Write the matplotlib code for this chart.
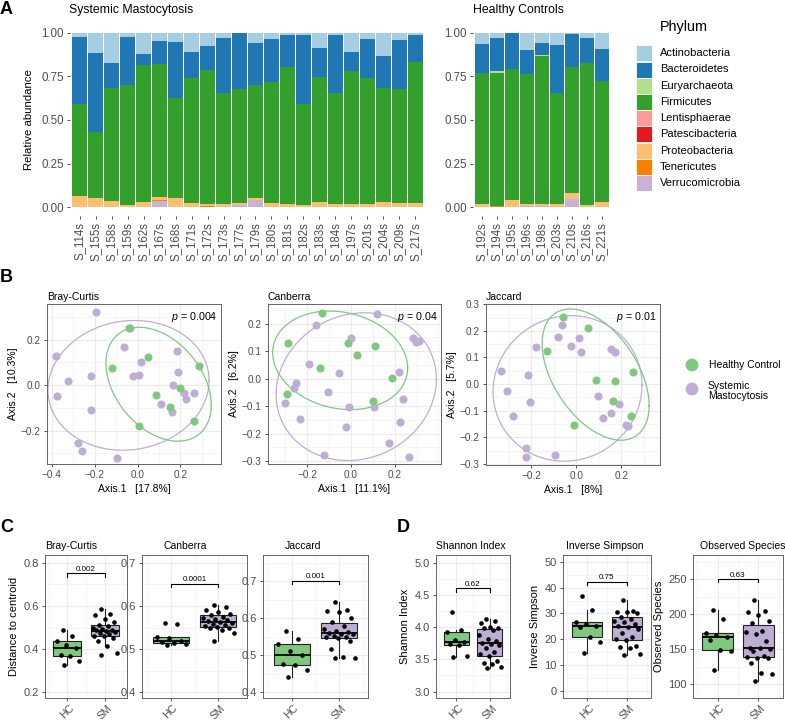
import numpy as np
import matplotlib
matplotlib.use("Agg")
import matplotlib.pyplot as plt
from matplotlib.patches import Rectangle
from matplotlib.ticker import AutoMinorLocator

plt.rcParams['font.family'] = ['Liberation Sans', 'DejaVu Sans']
plt.rcParams['mathtext.fontset'] = 'custom'
plt.rcParams['mathtext.it'] = 'Liberation Sans:italic'
plt.rcParams['mathtext.rm'] = 'Liberation Sans'

# ---------------- A: phylum composition ----------------
phyla = ["Actinobacteria", "Bacteroidetes", "Euryarchaeota", "Firmicutes",
         "Lentisphaerae", "Patescibacteria", "Proteobacteria", "Tenericutes",
         "Verrucomicrobia"]
phylum_colors = ["#A6CEE3", "#1F78B4", "#B2DF8A", "#33A02C", "#FB9A99",
                 "#E31A1C", "#FDBF6F", "#FF7F00", "#CAB2D6"]

sm_samples = ["S_114s", "S_155s", "S_158s", "S_159s", "S_162s", "S_167s", "S_168s",
              "S_171s", "S_172s", "S_173s", "S_177s", "S_179s", "S_180s", "S_181s",
              "S_182s", "S_183s", "S_184s", "S_197s", "S_201s", "S_204s", "S_209s",
              "S_217s"]
hc_samples = ["S_192s", "S_194s", "S_195s", "S_196s", "S_198s", "S_203s", "S_210s",
              "S_216s", "S_221s"]

sm_actino = [0.025, 0.115, 0.171, 0.025, 0.121, 0.048, 0.052, 0.108, 0.075, 0.031, 0.004,
             0.058, 0.035, 0.015, 0.015, 0.087, 0.013, 0.112, 0.038, 0.135, 0.042, 0.015]
sm_bacter = [0.383, 0.452, 0.144, 0.273, 0.062, 0.129, 0.323, 0.154, 0.138, 0.317, 0.317,
             0.242, 0.246, 0.183, 0.393, 0.167, 0.335, 0.105, 0.220, 0.180, 0.281, 0.150]
sm_eury = [0, 0, 0, 0, 0, 0.004, 0, 0, 0, 0, 0, 0, 0, 0, 0, 0, 0, 0, 0, 0, 0, 0]
sm_firm = [0.529, 0.381, 0.648, 0.687, 0.788, 0.761, 0.571, 0.715, 0.770, 0.635, 0.652,
           0.648, 0.692, 0.781, 0.577, 0.715, 0.631, 0.766, 0.725, 0.654, 0.652, 0.812]
sm_lentis = [0.0] * 22
sm_pates = [0.0] * 22
sm_proteo = [0.060, 0.052, 0.037, 0.015, 0.029, 0.017, 0.054, 0.023, 0.009, 0.017, 0.015,
             0.012, 0.027, 0.021, 0.015, 0.031, 0.021, 0.017, 0.017, 0.031, 0.025, 0.023]
sm_teneric = [0, 0, 0, 0, 0, 0.006, 0, 0, 0.008, 0, 0, 0, 0, 0, 0, 0, 0, 0, 0, 0, 0, 0]
sm_verruco = [0.003, 0, 0, 0, 0, 0.035, 0, 0, 0, 0, 0.012, 0.040, 0, 0, 0, 0, 0, 0, 0, 0, 0, 0]

hc_actino = [0.066, 0.029, 0.0, 0.101, 0.056, 0.070, 0.008, 0.031, 0.091]
hc_bacter = [0.162, 0.191, 0.207, 0.133, 0.072, 0.274, 0.189, 0.141, 0.188]
hc_eury = [0, 0.008, 0, 0, 0.007, 0, 0, 0, 0]
hc_firm = [0.755, 0.762, 0.750, 0.747, 0.844, 0.635, 0.724, 0.813, 0.688]
hc_lentis = [0.0] * 9
hc_pates = [0.0] * 9
hc_proteo = [0.017, 0.002, 0.043, 0.011, 0.016, 0.021, 0.031, 0.015, 0.033]
hc_teneric = [0, 0.008, 0, 0, 0, 0, 0, 0, 0]
hc_verruco = [0, 0, 0, 0.008, 0.005, 0, 0.048, 0, 0]

# ---------------- B: PCoA coordinates ----------------
bc_hc_x = [-0.042, -0.120, 0.050, 0.288, 0.198, 0.088, 0.150, 0.008, 0.266]
bc_hc_y = [0.251, 0.073, 0.122, 0.082, -0.015, -0.045, -0.095, -0.182, -0.160]
bc_sm_x = [-0.195, -0.383, -0.375, -0.327, -0.217, -0.217, -0.277, -0.258, -0.098, -0.034, -0.064,
           0.014, -0.020, 0.009, 0.184, 0.188, 0.166, 0.216, 0.228, 0.266, 0.108, 0.161]
bc_sm_y = [0.323, 0.127, -0.047, 0.018, 0.038, -0.108, -0.255, -0.289, -0.321, 0.251, 0.166,
           0.100, 0.040, 0.044, 0.151, 0.059, 0.001, -0.034, -0.063, -0.035, -0.082, -0.117]

cb_hc_x = [-0.131, -0.290, -0.014, 0.108, 0.027, -0.140, 0.189, -0.295, 0.099]
cb_hc_y = [0.237, 0.128, 0.128, 0.117, 0.085, 0.040, 0.002, -0.057, -0.082]
cb_sm_x = [0.118, -0.160, 0.002, 0.285, 0.296, 0.311, -0.191, -0.056, 0.220, -0.252, -0.260,
           -0.105, -0.304, 0.238, -0.009, 0.105, -0.232, 0.224, -0.021, 0.174, -0.122, 0.264]
cb_sm_y = [0.235, 0.195, 0.146, 0.148, 0.134, 0.137, 0.052, 0.021, 0.023, -0.017, -0.034,
           -0.047, -0.087, -0.075, -0.102, -0.102, -0.145, -0.156, -0.176, -0.232, -0.277, -0.283]

jc_hc_x = [-0.058, 0.052, -0.128, 0.254, 0.086, 0.174, 0.162, 0.245, -0.009]
jc_hc_y = [0.253, 0.210, 0.123, 0.045, 0.015, 0.010, -0.064, -0.118, -0.152]
jc_sm_x = [-0.061, -0.081, 0.013, -0.024, 0.021, -0.177, 0.156, 0.174, -0.332, -0.213, -0.307,
           -0.205, -0.282, 0.099, 0.190, 0.156, 0.117, 0.223, 0.232, -0.221, -0.223, -0.096]
jc_sm_y = [0.223, 0.176, 0.173, 0.143, 0.119, 0.139, 0.132, 0.119, 0.048, 0.034, -0.026,
           -0.069, -0.120, -0.044, -0.075, -0.110, -0.128, -0.153, -0.158, -0.241, -0.274, -0.265]

# ---------------- C: distance to centroid ----------------
dist_bc_hc = [0.325, 0.345, 0.37, 0.372, 0.406, 0.42, 0.44, 0.46, 0.487]
dist_bc_sm = [0.375, 0.382, 0.413, 0.44, 0.452, 0.46, 0.462, 0.468, 0.473, 0.478, 0.483,
              0.487, 0.49, 0.495, 0.50, 0.508, 0.512, 0.525, 0.54, 0.56, 0.565, 0.585]
dist_cb_hc = [0.51, 0.512, 0.514, 0.516, 0.518, 0.525, 0.528, 0.558, 0.56]
dist_cb_sm = [0.52, 0.538, 0.545, 0.548, 0.55, 0.552, 0.553, 0.556, 0.558, 0.56, 0.562,
              0.565, 0.567, 0.57, 0.572, 0.575, 0.58, 0.582, 0.585, 0.59, 0.598, 0.603]
dist_jc_hc = [0.442, 0.46, 0.472, 0.475, 0.50, 0.51, 0.53, 0.544, 0.566]
dist_jc_sm = [0.491, 0.493, 0.495, 0.516, 0.537, 0.547, 0.548, 0.55, 0.553, 0.556, 0.558,
              0.56, 0.562, 0.565, 0.572, 0.578, 0.59, 0.6, 0.618, 0.62, 0.623, 0.645]

# ---------------- D: alpha diversity ----------------
shannon_hc = [3.54, 3.55, 3.72, 3.74, 3.77, 3.80, 3.92, 3.96, 4.24]
shannon_sm = [3.36, 3.38, 3.43, 3.44, 3.47, 3.55, 3.58, 3.62, 3.68, 3.72, 3.74, 3.76, 3.79,
              3.82, 3.88, 3.96, 3.98, 3.99, 4.0, 4.07, 4.09, 4.12]
invsimp_hc = [14.6, 19.0, 20.7, 24.9, 25.2, 26.0, 26.6, 31.4, 36.6]
invsimp_sm = [13.8, 14.2, 16.8, 17.2, 17.6, 19.6, 20.2, 21.0, 22.4, 24.0, 24.6, 25.2, 26.0,
              26.6, 27.2, 28.0, 28.8, 30.0, 30.5, 30.7, 31.0, 35.3]
observed_hc = [120.5, 148, 148.5, 163.3, 167.1, 170.5, 172.9, 192.9, 205.7]
observed_sm = [105, 114, 116, 130, 137, 138, 139, 140, 148, 150, 151, 152, 162, 171, 175,
               176, 187, 190, 199, 203, 204, 221]

green = "#7FC97F"
purple = "#BEAED4"
grey_txt = "#4D4D4D"

W, H = 785, 721
fig = plt.figure(figsize=(W / 100, H / 100), dpi=100)


def add_ax(l, t, r, b):
    # axes placed in pixel coordinates (top-left origin)
    return fig.add_axes([l / W, 1 - b / H, (r - l) / W, (b - t) / H])


# overlay in pixel units for titles / legends / panel letters
over = add_ax(0, 0, W, H)
over.set_xlim(0, W)
over.set_ylim(H, 0)
over.axis("off")


def bw_style(ax, tsize=7.2):
    ax.set_facecolor("white")
    for sp in ax.spines.values():
        sp.set_color("#666666")
        sp.set_linewidth(0.7)
    ax.xaxis.set_minor_locator(AutoMinorLocator(2))
    ax.yaxis.set_minor_locator(AutoMinorLocator(2))
    ax.grid(True, which="major", color="#EBEBEB", linewidth=0.8)
    ax.grid(True, which="minor", color="#F2F2F2", linewidth=0.5)
    ax.set_axisbelow(True)
    ax.tick_params(which="minor", length=0)
    ax.tick_params(which="major", length=2.5, width=0.6, color="#333333",
                   labelsize=tsize, labelcolor=grey_txt, pad=2)


# ---- panel A ----
def stack_bars(ax, samples, comp):
    x = np.arange(len(samples))
    bottom = np.zeros(len(samples))
    for name, col in list(zip(phyla, phylum_colors))[::-1]:
        vals = np.array(comp[name], dtype=float)
        ax.bar(x, vals, bottom=bottom, width=0.9, color=col, linewidth=0)
        bottom += vals
    ax.set_xlim(-0.6, len(samples) - 0.4)
    ax.set_ylim(-0.05, 1.05)
    ax.set_yticks([0, 0.25, 0.5, 0.75, 1.0])
    ax.set_yticklabels(["0.00", "0.25", "0.50", "0.75", "1.00"])
    ax.set_xticks(x)
    ax.set_xticklabels(samples, rotation=90)
    for sp in ax.spines.values():
        sp.set_visible(False)
    ax.tick_params(length=2.5, width=0.6, color="#333333", labelsize=8.3,
                   labelcolor=grey_txt, pad=2)


sm_comp = dict(zip(phyla, [sm_actino, sm_bacter, sm_eury, sm_firm, sm_lentis, sm_pates,
                           sm_proteo, sm_teneric, sm_verruco]))
hc_comp = dict(zip(phyla, [hc_actino, hc_bacter, hc_eury, hc_firm, hc_lentis, hc_pates,
                           hc_proteo, hc_teneric, hc_verruco]))

axA1 = add_ax(70, 24, 425, 216)
stack_bars(axA1, sm_samples, sm_comp)
axA1.set_ylabel("Relative abundance", fontsize=8.2, labelpad=5)
over.text(69, 10, "Systemic Mastocytosis", fontsize=8.8, va="center", ha="left")

axA2 = add_ax(473, 24, 611, 216)
stack_bars(axA2, hc_samples, hc_comp)
over.text(473, 10, "Healthy Controls", fontsize=8.8, va="center", ha="left")

# phylum legend
over.text(660, 27, "Phylum", fontsize=10.4, va="center", ha="left")
for i, (name, col) in enumerate(zip(phyla, phylum_colors)):
    yc = 53.3 + i * 16.2
    over.add_patch(Rectangle((636, yc - 8), 16, 16, facecolor=col, edgecolor="white",
                             linewidth=0.6))
    over.text(660, yc, name, fontsize=8, va="center", ha="left")

# ---- panel B ----
ELLIPSE_R = 1.77


def ellipse_xy(x, y, r=ELLIPSE_R, n=200):
    pts = np.column_stack([x, y])
    mu = pts.mean(axis=0)
    chol = np.linalg.cholesky(np.cov(pts.T))
    t = np.linspace(0, 2 * np.pi, n)
    circ = np.column_stack([np.cos(t), np.sin(t)])
    e = mu + r * circ @ chol.T
    return e[:, 0], e[:, 1]


def fmt(v):
    return f"{v:.1f}".replace("-", "\u2212")


def pcoa(ax, hx, hy, sx, sy, xlim, ylim, xt, yt, title, ptxt, xlab, ylab):
    bw_style(ax)
    ax.scatter(sx, sy, s=34, color=purple, linewidths=0, zorder=3)
    ax.scatter(hx, hy, s=34, color=green, linewidths=0, zorder=3)
    ex, ey = ellipse_xy(sx, sy)
    ax.plot(ex, ey, color=purple, linewidth=0.9, zorder=2)
    ex, ey = ellipse_xy(hx, hy)
    ax.plot(ex, ey, color=green, linewidth=0.9, zorder=2)
    ax.set_xlim(*xlim)
    ax.set_ylim(*ylim)
    ax.set_xticks(xt)
    ax.set_yticks(yt)
    ax.set_xticklabels([fmt(v) for v in xt])
    ax.set_yticklabels([fmt(v) for v in yt])
    ax.set_title(title, loc="left", fontsize=7.5, pad=3)
    ax.text(0.98, 0.965, ptxt, transform=ax.transAxes, ha="right", va="top", fontsize=7.7)
    ax.set_xlabel(xlab, fontsize=7.5, labelpad=3)
    ax.set_ylabel(ylab, fontsize=7.5, labelpad=2)


axB1 = add_ax(47, 304, 221, 464)
pcoa(axB1, bc_hc_x, bc_hc_y, bc_sm_x, bc_sm_y, (-0.423, 0.39), (-0.347, 0.356),
     [-0.4, -0.2, 0.0, 0.2], [-0.2, 0.0, 0.2], "Bray-Curtis", "$p$ = 0.004",
     "Axis.1   [17.8%]", "Axis.2   [10.3%]")
axB2 = add_ax(268, 304, 441, 464)
pcoa(axB2, cb_hc_x, cb_hc_y, cb_sm_x, cb_sm_y, (-0.380, 0.412), (-0.310, 0.271),
     [-0.2, 0.0, 0.2], [-0.3, -0.2, -0.1, 0.0, 0.1, 0.2], "Canberra", "$p$ = 0.04",
     "Axis.1   [11.1%]", "Axis.2   [6.2%]")
axB3 = add_ax(486, 304, 660, 465)
pcoa(axB3, jc_hc_x, jc_hc_y, jc_sm_x, jc_sm_y, (-0.400, 0.372), (-0.304, 0.301),
     [-0.2, 0.0, 0.2], [-0.3, -0.2, -0.1, 0.0, 0.1, 0.2, 0.3], "Jaccard", "$p$ = 0.01",
     "Axis.1   [8%]", "Axis.2   [5.7%]")

# group legend
over.scatter([692, 692], [365, 389], s=85, color=[green, purple], linewidths=0)
over.text(709, 365, "Healthy Control", fontsize=7.5, va="center", ha="left")
over.text(708, 391, "Systemic\nMastocytosis", fontsize=7.5, va="center", ha="left",
          linespacing=1.05)


# ---- panels C and D ----
def jitter(n, width=0.33):
    k = np.arange(n)
    return ((k * 0.6180339887 + 0.37) % 1 - 0.5) * 2 * width


def box_panel(ax, hc, sm, ylim, yt, ylabels, ptxt, ybar, ylab=None):
    bw_style(ax, tsize=8)
    bp = ax.boxplot([hc, sm], positions=[1, 2], widths=0.75, patch_artist=True,
                    showfliers=False, showcaps=False,
                    medianprops=dict(color="black", linewidth=1.3),
                    boxprops=dict(edgecolor="#222222", linewidth=0.8),
                    whiskerprops=dict(color="#222222", linewidth=0.8))
    for patch, col in zip(bp["boxes"], [green, purple]):
        patch.set_facecolor(col)
    for pos, vals in [(1, hc), (2, sm)]:
        ax.scatter(pos + jitter(len(vals)), vals, s=11, color="black", zorder=4,
                   linewidths=0)
    span = ylim[1] - ylim[0]
    d = 0.022 * span
    ax.plot([1, 1, 2, 2], [ybar - d, ybar, ybar, ybar - d], color="black", linewidth=0.8)
    ax.text(1.5, ybar + 0.005 * span, ptxt, ha="center", va="bottom", fontsize=5.8)
    ax.set_xlim(0.4, 2.6)
    ax.set_ylim(*ylim)
    ax.set_yticks(yt)
    ax.set_yticklabels(ylabels)
    ax.set_xticks([1, 2])
    ax.set_xticklabels(["HC", "SM"], rotation=45, ha="center", va="top", fontsize=7.5)
    ax.tick_params(axis="x", pad=1)
    if ylab:
        ax.set_ylabel(ylab, fontsize=8, labelpad=3)


axC1 = add_ax(45, 555, 127, 698)
box_panel(axC1, dist_bc_hc, dist_bc_sm, (0.174, 0.836), [0.2, 0.4, 0.6, 0.8],
          ["0.2", "0.4", "0.6", "0.8"], "0.002", 0.751, "Distance to centroid")
axC2 = add_ax(142, 555, 247, 698)
box_panel(axC2, dist_cb_hc, dist_cb_sm, (0.387, 0.718), [0.4, 0.5, 0.6, 0.7],
          ["0.4", "0.5", "0.6", "0.7"], "0.0001", 0.651)
axC3 = add_ax(263, 555, 368, 698)
box_panel(axC3, dist_jc_hc, dist_jc_sm, (0.384, 0.771), [0.4, 0.5, 0.6, 0.7],
          ["0.4", "0.5", "0.6", "0.7"], "0.001", 0.701)

axD1 = add_ax(436, 555, 510, 698)
box_panel(axD1, shannon_hc, shannon_sm, (2.90, 5.12), [3.0, 3.5, 4.0, 4.5, 5.0],
          ["3.0", "3.5", "4.0", "4.5", "5.0"], "0.62", 4.60, "Shannon Index")
axD2 = add_ax(563, 555, 651, 698)
box_panel(axD2, invsimp_hc, invsimp_sm, (-2.7, 52.6), [0, 10, 20, 30, 40, 50],
          ["0", "10", "20", "30", "40", "50"], "0.75", 42.2, "Inverse Simpson")
axD3 = add_ax(693, 555, 783, 698)
box_panel(axD3, observed_hc, observed_sm, (80, 284.8), [100, 150, 200, 250],
          ["100", "150", "200", "250"], "0.63", 250, "Observed Species")

# panel titles for C and D
for txt, x in [("Bray-Curtis", 45), ("Canberra", 163), ("Jaccard", 285),
               ("Shannon Index", 436), ("Inverse Simpson", 566), ("Observed Species", 700)]:
    over.text(x, 546, txt, fontsize=7.5, va="center", ha="left")

# panel letters
for letter, x, y in [("A", 0, 9), ("B", 0, 277), ("C", 0, 528), ("D", 397, 528)]:
    over.text(x, y, letter, fontsize=13, fontweight="bold", va="center", ha="left")

plt.savefig("out.png", dpi=100)
